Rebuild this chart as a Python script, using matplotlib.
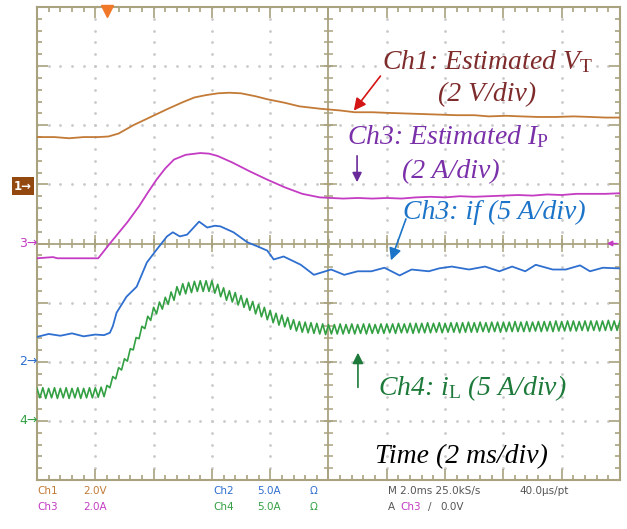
import numpy as np
import matplotlib
matplotlib.use("Agg")
import matplotlib.pyplot as plt

# time in ms (2 ms/div, screen centre = 0), amplitudes in screen divisions
ch1_t = [-10.0, -9.4, -8.9, -8.4, -7.9, -7.55, -7.2, -6.7, -6.1, -5.5, -5.0, -4.6,
         -4.2, -3.8, -3.4, -3.0, -2.5, -2.1, -1.5, -1.0, -0.3, 0.4, 0.9, 1.5,
         2.0, 2.6, 3.2, 3.8, 4.4, 5.0, 5.5, 6.1, 6.6, 7.2, 7.8, 8.4, 9.0, 9.5, 10.0]
ch1_v = [1.80, 1.80, 1.78, 1.80, 1.80, 1.81, 1.86, 2.00, 2.14, 2.28, 2.39, 2.47,
         2.51, 2.54, 2.55, 2.54, 2.49, 2.44, 2.38, 2.32, 2.28, 2.25, 2.22, 2.22,
         2.21, 2.20, 2.19, 2.18, 2.17, 2.17, 2.15, 2.16, 2.15, 2.14, 2.14, 2.15, 2.14, 2.13, 2.13]

ch3_t = [-10.0, -9.45, -9.3, -8.6, -7.9, -7.5, -6.9, -6.5, -6.2, -5.9, -5.6, -5.3,
         -4.9, -4.4, -4.1, -3.8, -3.3, -2.7, -2.1, -1.5, -0.9, -0.3, 0.5, 1.0,
         1.5, 2.0, 2.5, 3.0, 3.5, 4.0, 4.5, 5.0, 5.5, 6.0, 6.5, 7.0, 7.5, 8.0,
         8.5, 9.0, 9.5, 10.0]
ch3_v = [-0.25, -0.23, -0.25, -0.25, -0.25, 0.00, 0.36, 0.63, 0.86, 1.08, 1.27, 1.42,
         1.50, 1.53, 1.52, 1.48, 1.37, 1.22, 1.08, 0.95, 0.84, 0.78, 0.76, 0.77,
         0.76, 0.77, 0.76, 0.78, 0.79, 0.78, 0.80, 0.79, 0.80, 0.81, 0.82, 0.81,
         0.83, 0.82, 0.84, 0.84, 0.84, 0.85]

ch2_t = [-10.0, -9.6, -9.2, -8.8, -8.4, -8.0, -7.7, -7.5, -7.4, -7.27, -6.93, -6.58,
         -6.23, -5.89, -5.54, -5.34, -5.1, -4.85, -4.44, -4.16, -3.9, -3.71, -3.26,
         -2.78, -2.43, -2.1, -1.88, -1.54, -1.2, -0.95, -0.5, 0.09, 0.54, 1.0, 1.47,
         1.92, 2.44, 2.85, 3.44, 3.8, 4.23, 4.82, 5.37, 5.86, 6.30, 6.75, 7.11, 7.69,
         8.14, 8.63, 8.97, 9.41, 9.93, 10.0]
ch2_v = [-1.58, -1.53, -1.56, -1.52, -1.57, -1.54, -1.55, -1.51, -1.40, -1.17, -0.90, -0.73,
         -0.32, -0.10, 0.12, 0.19, 0.12, 0.15, 0.37, 0.27, 0.30, 0.29, 0.19,
         0.02, -0.05, -0.12, -0.27, -0.22, -0.30, -0.36, -0.53, -0.44, -0.53, -0.47, -0.47,
         -0.41, -0.54, -0.44, -0.47, -0.42, -0.39, -0.44, -0.39, -0.47, -0.39, -0.47, -0.36, -0.44,
         -0.44, -0.37, -0.47, -0.41, -0.42, -0.42]

# Ch4 sampled every 0.1 ms from -10 ms (switching ripple visible)
ch4_v = [-2.45, -2.61, -2.44, -2.62, -2.45, -2.61, -2.44, -2.62, -2.45, -2.61,
         -2.44, -2.62, -2.45, -2.61, -2.44, -2.62, -2.45, -2.61, -2.44, -2.61,
         -2.44, -2.60, -2.43, -2.59, -2.40, -2.44, -2.25, -2.29, -2.10, -2.14,
         -1.95, -1.99, -1.78, -1.80, -1.59, -1.61, -1.40, -1.44, -1.23, -1.30,
         -1.08, -1.19, -0.99, -1.11, -0.91, -1.03, -0.82, -0.96, -0.73, -0.87,
         -0.68, -0.85, -0.66, -0.83, -0.64, -0.81, -0.63, -0.81, -0.63, -0.81,
         -0.63, -0.84, -0.69, -0.90, -0.75, -0.96, -0.80, -0.99, -0.83, -1.04,
         -0.88, -1.08, -0.93, -1.13, -0.98, -1.19, -1.03, -1.24, -1.08, -1.29,
         -1.13, -1.34, -1.18, -1.38, -1.21, -1.41, -1.25, -1.45, -1.29, -1.48,
         -1.32, -1.50, -1.33, -1.51, -1.34, -1.52, -1.35, -1.53, -1.36, -1.54,
         -1.37, -1.53, -1.37, -1.53, -1.36, -1.53, -1.37, -1.52, -1.36, -1.53,
         -1.37, -1.52, -1.36, -1.53, -1.36, -1.52, -1.37, -1.52, -1.36, -1.52,
         -1.36, -1.51, -1.36, -1.52, -1.35, -1.51, -1.36, -1.51, -1.35, -1.52,
         -1.35, -1.51, -1.35, -1.51, -1.34, -1.51, -1.35, -1.50, -1.34, -1.51,
         -1.35, -1.50, -1.34, -1.50, -1.34, -1.51, -1.34, -1.50, -1.33, -1.50,
         -1.34, -1.50, -1.33, -1.49, -1.34, -1.50, -1.33, -1.49, -1.33, -1.50,
         -1.33, -1.49, -1.33, -1.49, -1.32, -1.49, -1.33, -1.49, -1.32, -1.49,
         -1.33, -1.48, -1.32, -1.49, -1.32, -1.48, -1.32, -1.49, -1.31, -1.48,
         -1.32, -1.48, -1.31, -1.48, -1.31, -1.48, -1.32, -1.47, -1.31, -1.48,
         -1.31, -1.47, -1.31, -1.48, -1.31, -1.47, -1.30, -1.47, -1.31, -1.47,
         -1.31]
ch4_t = np.round(np.arange(len(ch4_v)) * 0.1 - 10.0, 1)

trigger_t = -7.6
ground = {"1": 1.0, "3": 0.0, "2": -2.0, "4": -3.0}

c1, c2, c3, c4 = "#C27A36", "#2F6FD0", "#C33CC3", "#33A043"
frame = "#A9A27F"
W, H = 627, 529

plt.rcParams["mathtext.fontset"] = "custom"
plt.rcParams["mathtext.it"] = "Liberation Serif:italic"
plt.rcParams["mathtext.rm"] = "Liberation Serif"

fig = plt.figure(figsize=(W / 100, H / 100), dpi=100)
ax = fig.add_axes([37 / W, 1 - 480 / H, 583 / W, 473 / H])
ax.set_xlim(-10, 10)
ax.set_ylim(-4, 4)

# scope graticule
for s in ax.spines.values():
    s.set_color(frame)
    s.set_linewidth(1.5)
ax.set_xticks(np.arange(-10, 10.1, 2))
ax.set_xticks(np.arange(-10, 10.1, 0.4), minor=True)
ax.set_yticks(np.arange(-4, 4.1, 1))
ax.set_yticks(np.arange(-4, 4.1, 0.2), minor=True)
ax.tick_params(which="both", direction="in", top=True, right=True, color=frame,
               labelbottom=False, labelleft=False, width=1.2)
ax.tick_params(which="major", length=8)
ax.tick_params(which="minor", length=3.5)

gx = np.arange(-8, 8.1, 2)
gy = np.arange(-3, 3.1, 1)
dx = np.arange(-10, 10.01, 0.4)
dy = np.arange(-4, 4.01, 0.2)
for x in gx:
    if x != 0:
        ax.plot(np.full_like(dy, x), dy, ls="none", marker="o", ms=1.0, color="#CACACA", zorder=1)
for y in gy:
    if y != 0:
        ax.plot(dx, np.full_like(dx, y), ls="none", marker="o", ms=1.0, color="#CACACA", zorder=1)
ax.axhline(0, color=frame, lw=1.3, zorder=1)
ax.axvline(0, color=frame, lw=1.3, zorder=1)
ax.vlines(dx, -0.07, 0.07, color=frame, lw=1.1, zorder=1)
ax.vlines(gx, -0.14, 0.14, color=frame, lw=1.1, zorder=1)
ax.hlines(dy, -0.15, 0.15, color=frame, lw=1.1, zorder=1)
ax.hlines(gy, -0.28, 0.28, color=frame, lw=1.1, zorder=1)

# traces
ax.plot(ch1_t, ch1_v, color=c1, lw=1.3, zorder=3)
ax.plot(ch3_t, ch3_v, color=c3, lw=1.3, zorder=3)
ax.plot(ch2_t, ch2_v, color=c2, lw=1.3, zorder=3)
ax.plot(ch4_t, ch4_v, color=c4, lw=1.2, zorder=3)

ax.plot([trigger_t], [3.93], marker="v", ms=8, color="#F07828", clip_on=False, zorder=5)
ax.annotate("", xy=(9.45, ground["3"]), xytext=(10, ground["3"]),
            arrowprops=dict(arrowstyle="-|>", color=c3, lw=1.0, mutation_scale=8))

# ground markers on the left
fig.text(14 / W, 1 - 186 / H, "1\u2192", color="white", fontsize=8.5, va="center",
         fontweight="bold",
         bbox=dict(boxstyle="square,pad=0.2", fc="#93480F", ec="none"))
for lab, col in (("3", c3), ("2", c2), ("4", c4)):
    yy = ax.transData.transform((0, ground[lab]))[1] / H
    fig.text(19 / W, yy, lab + "\u2192", color=col, fontsize=9, va="center")

# annotations
serif = dict(family="Liberation Serif", style="italic", fontsize=20)
ax.text(1.84, 3.07, r"Ch1: Estimated $V_{\mathrm{T}}$", color="#7E2B2B", va="center", **serif)
ax.text(3.76, 2.51, "(2 V/div)", color="#7E2B2B", va="center", **serif)
ax.text(0.63, 1.80, r"Ch3: Estimated $I_{\mathrm{P}}$", color="#7A30A8", va="center", **serif)
ax.text(2.52, 1.21, "(2 A/div)", color="#7A30A8", va="center", **serif)
ax.text(2.56, 0.52, "Ch3: if (5 A/div)", color="#1C74C8", va="center", **serif)
ax.text(1.70, -2.45, r"Ch4: $i_{\mathrm{L}}$ (5 A/div)", color="#1D7A3A", va="center", **serif)
ax.text(1.60, -3.60, "Time (2 ms/div)", color="black", va="center", **serif)

ax.annotate("", xy=(0.81, 2.21), xytext=(1.84, 2.87),
            arrowprops=dict(arrowstyle="-|>", color="#D41515", lw=1.2, mutation_scale=18))
ax.annotate("", xy=(0.98, 0.99), xytext=(0.98, 1.53),
            arrowprops=dict(arrowstyle="-|>", color="#6A2A9A", lw=1.2, mutation_scale=14))
ax.annotate("", xy=(2.11, -0.33), xytext=(2.69, 0.46),
            arrowprops=dict(arrowstyle="-|>", color="#1C74C8", lw=1.2, mutation_scale=18))
ax.annotate("", xy=(1.01, -1.80), xytext=(1.01, -2.48),
            arrowprops=dict(arrowstyle="-|>", color="#1D7A3A", lw=1.2, mutation_scale=16))

# status line under the screen
small = dict(fontsize=7.5, family=["Liberation Sans Narrow", "DejaVu Sans"], va="center")
def st(x, y, s, col):
    fig.text(x / W, 1 - y / H, s, color=col, **small)
st(37, 491, "Ch1", c1); st(83, 491, "2.0V", c1)
st(37, 507, "Ch3", c3); st(83, 507, "2.0A", c3)
st(213, 491, "Ch2", c2); st(257, 491, "5.0A", c2); st(310, 491, "\u03a9", c2)
st(213, 507, "Ch4", c4); st(257, 507, "5.0A", c4); st(310, 507, "\u03a9", c4)
st(388, 491, "M 2.0ms 25.0kS/s", "#555555"); st(519, 491, "40.0\u00b5s/pt", "#555555")
st(388, 507, "A", "#555555"); st(400, 507, "Ch3", c3); st(428, 507, "/", "#555555")
st(440, 507, "0.0V", "#555555")

fig.savefig("out.png", dpi=100)
